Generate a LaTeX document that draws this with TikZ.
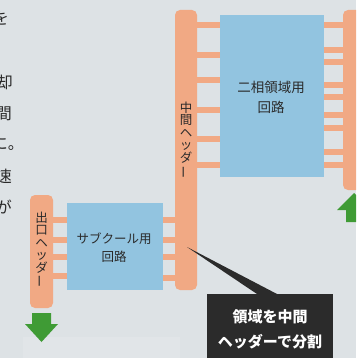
\documentclass[tikz,border=0pt]{standalone}
\usepackage{fontspec}
\usepackage{graphicx}
\newfontfamily\jp{Noto Sans CJK JP}
\definecolor{bg}{HTML}{DDE2E5}
\definecolor{hdr}{HTML}{F1A984}
\definecolor{circ}{HTML}{92C4E0}
\definecolor{arr}{HTML}{3F9B35}
\definecolor{call}{HTML}{2B2B2B}
\definecolor{ink}{HTML}{2A2A2A}
\begin{document}
\begin{tikzpicture}[x=1pt,y=-1pt,
  header/.style={fill=hdr, rounded corners=5pt, inner sep=0pt, outer sep=0pt, anchor=north west},
  circuit/.style={fill=circ, inner sep=0pt, outer sep=0pt, anchor=north west},
  stub/.style={draw=hdr, line width=5.5pt},
  vtext/.style={font=\jp\fontsize{12.5}{12.4}\selectfont, text=ink, align=center, inner sep=0pt},
  ctext/.style={text=ink, align=center, inner sep=0pt},
  frag/.style={font=\jp\fontsize{16}{16}\selectfont, text=ink, inner sep=0pt, anchor=east},
  greenarrow/.style={fill=arr}]
\useasboundingbox (0,0) rectangle (356,358);
\clip (0,0) rectangle (356,358);
\fill[bg] (0,0) rectangle (356,358);
\fill[white, opacity=0.12] (23,337) rectangle (180,358);

% page text fragments on the left
\node[frag] (f1) at (9,18) {を};
\node[frag] (f2) at (13,82) {却};
\node[frag] (f3) at (12,114) {間};
\node[frag] (f4) at (24,144) {に。};
\node[frag] (f5) at (12,176) {速};
\node[frag] (f6) at (12,207) {が};

% headers
\node[header, minimum width=22pt, minimum height=280pt] (mid) at (175,10) {};
\node[header, minimum width=32pt, minimum height=180pt] (right) at (343,10) {};
\node[header, minimum width=23pt, minimum height=113pt] (outlet) at (30,195) {};

% circuits
\node[circuit, minimum width=104pt, minimum height=162pt] (two) at (220,15) {};
\node[circuit, minimum width=96pt, minimum height=87pt] (sub) at (67,203) {};

% stubs
\foreach \y in {25,55,80,110,139,165}
  \draw[stub] (mid.east |- 0,\y) -- (two.west |- 0,\y);
\foreach \y in {25,50,62,85,97,115,128,152,165}
  \draw[stub] (two.east |- 0,\y) -- (right.west |- 0,\y);
\foreach \y in {220,240,257,278}
  \draw[stub] (sub.east |- 0,\y) -- (mid.west |- 0,\y);
\foreach \y in {220,240,257,276}
  \draw[stub] (outlet.east |- 0,\y) -- (sub.west |- 0,\y);

% labels
\node[vtext] (midlbl) at (186,140) {中\\間\\ヘ\\ッ\\ダ\\\rotatebox[origin=c]{90}{ー}};
\node[vtext] (outlbl) at (41.5,250) {出\\口\\ヘ\\ッ\\ダ\\\rotatebox[origin=c]{90}{ー}};
\node[ctext, font=\jp\fontsize{13.5}{20}\selectfont] (twolbl) at (271,97) {二相領域用\\回路};
\node[ctext, font=\jp\fontsize{12.5}{18}\selectfont] (sublbl) at (114,248) {サブクール用\\回路};

% green arrows
\fill[greenarrow] (32,313) -- (51,313) -- (51,324) -- (58,324) -- (41.5,342) -- (25,324) -- (32,324) -- cycle;
\fill[greenarrow] (354,193) -- (371,210) -- (362,210) -- (362,222) -- (346,222) -- (346,210) -- (337,210) -- cycle;

% callout
\node[fill=call, inner sep=0pt, outer sep=0pt, anchor=north west, minimum width=126pt, minimum height=70pt,
      text=white, align=center, font=\jp\bfseries\fontsize{15}{25}\selectfont] (callout) at (207,294)
      {領域を中間\\ヘッダーで分割};
\coordinate (tip) at (187,247);
\fill[call] (tip) -- ([xshift=50pt]callout.north west) -- ([xshift=70pt]callout.north west) -- cycle;
\end{tikzpicture}
\end{document}
